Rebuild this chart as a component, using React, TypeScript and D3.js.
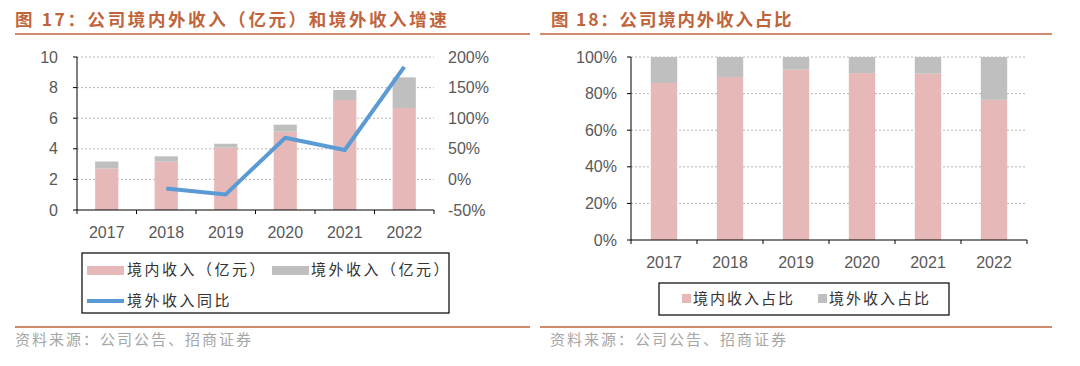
import React from 'react';
import * as d3 from 'd3';

// 数据
const years = ['2017', '2018', '2019', '2020', '2021', '2022'];
const domesticRev = [2.72, 3.16, 4.07, 5.12, 7.19, 6.67];
const overseasRev = [0.45, 0.35, 0.26, 0.46, 0.65, 2.0];
const overseasGrowth = [null, -15, -24.5, 68, 48, 184];
const domesticShare = [85.8, 89.1, 93.1, 91.2, 90.9, 76.6];
const overseasShare = domesticShare.map(v => 100 - v);

const leftTicks = [0, 2, 4, 6, 8, 10];
const rightTicks = [-50, 0, 50, 100, 150, 200];
const shareTicks = [0, 20, 40, 60, 80, 100];

const PINK = '#e6b8b7';
const GRAY = '#bfbfbf';
const BLUE = '#5b9bd5';
const TITLE = '#c0643c';
const RULE = '#d08a6c';
const TXT = '#595959';
const CJK = '"Noto Sans CJK SC", "Noto Sans", sans-serif';
const LAT = 'Arial, "Liberation Sans", sans-serif';

const LeftChart: React.FC = () => {
  const x = d3.scaleBand<string>().domain(years).range([77, 434]).paddingInner(0.61).paddingOuter(0.305);
  const y = d3.scaleLinear().domain([0, 10]).range([210, 57]);
  const y2 = d3.scaleLinear().domain([-50, 200]).range([210, 57]);
  const step = x.step();
  const line = d3.line<number | null>()
    .defined(d => d !== null)
    .x((_, i) => (x(years[i]) || 0) + x.bandwidth() / 2)
    .y(d => y2(d as number));

  return (
    <g>
      {leftTicks.filter(t => t > 0).map(t => (
        <line key={t} x1={77} x2={434} y1={y(t)} y2={y(t)} stroke="#a6a6a6" strokeDasharray="2,2" strokeWidth={0.8} />
      ))}
      {years.map((yr, i) => (
        <g key={yr}>
          <rect x={x(yr)} width={x.bandwidth()} y={y(domesticRev[i])} height={y(0) - y(domesticRev[i])} fill={PINK} />
          <rect x={x(yr)} width={x.bandwidth()} y={y(domesticRev[i] + overseasRev[i])} height={y(domesticRev[i]) - y(domesticRev[i] + overseasRev[i])} fill={GRAY} />
        </g>
      ))}
      <path d={line(overseasGrowth) || ''} fill="none" stroke={BLUE} strokeWidth={4} strokeLinejoin="round" />
      <line x1={77} x2={77} y1={57} y2={210} stroke="#000" strokeWidth={1} />
      <line x1={77} x2={434} y1={210} y2={210} stroke="#000" strokeWidth={1} />
      {leftTicks.map(t => (
        <g key={t}>
          <line x1={73} x2={77} y1={y(t)} y2={y(t)} stroke="#000" />
          <text x={58} y={y(t)} dy="0.35em" textAnchor="end" fontSize={16} fill={TXT} fontFamily={LAT}>{t}</text>
        </g>
      ))}
      {rightTicks.map(t => (
        <text key={t} x={448} y={y2(t)} dy="0.35em" fontSize={16} fill={TXT} fontFamily={LAT}>{t}%</text>
      ))}
      {d3.range(years.length + 1).map(i => (
        <line key={i} x1={77 + i * step} x2={77 + i * step} y1={210} y2={214} stroke="#000" />
      ))}
      {years.map(yr => (
        <text key={yr} x={(x(yr) || 0) + x.bandwidth() / 2} y={232} dy="0.35em" textAnchor="middle" fontSize={16} fill={TXT} fontFamily={LAT}>{yr}</text>
      ))}
      {/* 图例 */}
      <rect x={82} y={253} width={367} height={60} fill="none" stroke="#000" strokeWidth={1.2} />
      <rect x={87} y={266} width={37} height={9} fill={PINK} />
      <text x={127} y={270} dy="0.35em" fontSize={15} letterSpacing={2.5} fill="#333" fontFamily={CJK}>境内收入（亿元）</text>
      <rect x={272} y={266} width={37} height={9} fill={GRAY} />
      <text x={311} y={270} dy="0.35em" fontSize={15} letterSpacing={2.5} fill="#333" fontFamily={CJK}>境外收入（亿元）</text>
      <line x1={87} x2={124} y1={301} y2={301} stroke={BLUE} strokeWidth={4} />
      <text x={127} y={301} dy="0.35em" fontSize={15} letterSpacing={2.5} fill="#333" fontFamily={CJK}>境外收入同比</text>
    </g>
  );
};

const RightChart: React.FC = () => {
  const x = d3.scaleBand<string>().domain(years).range([631, 1027]).paddingInner(0.6).paddingOuter(0.3);
  const y = d3.scaleLinear().domain([0, 100]).range([240, 57]);
  const step = x.step();

  return (
    <g>
      {shareTicks.filter(t => t > 0).map(t => (
        <line key={t} x1={631} x2={1027} y1={y(t)} y2={y(t)} stroke="#a6a6a6" strokeDasharray="2,2" strokeWidth={0.8} />
      ))}
      {years.map((yr, i) => (
        <g key={yr}>
          <rect x={x(yr)} width={x.bandwidth()} y={y(domesticShare[i])} height={y(0) - y(domesticShare[i])} fill={PINK} />
          <rect x={x(yr)} width={x.bandwidth()} y={y(100)} height={y(domesticShare[i]) - y(domesticShare[i] + overseasShare[i])} fill={GRAY} />
        </g>
      ))}
      <line x1={631} x2={631} y1={57} y2={240} stroke="#000" />
      <line x1={631} x2={1027} y1={240} y2={240} stroke="#000" />
      {shareTicks.map(t => (
        <g key={t}>
          <line x1={627} x2={631} y1={y(t)} y2={y(t)} stroke="#000" />
          <text x={617} y={y(t)} dy="0.35em" textAnchor="end" fontSize={16} fill={TXT} fontFamily={LAT}>{t}%</text>
        </g>
      ))}
      {d3.range(years.length + 1).map(i => (
        <line key={i} x1={631 + i * step} x2={631 + i * step} y1={240} y2={244} stroke="#000" />
      ))}
      {years.map(yr => (
        <text key={yr} x={(x(yr) || 0) + x.bandwidth() / 2} y={262} dy="0.35em" textAnchor="middle" fontSize={16} fill={TXT} fontFamily={LAT}>{yr}</text>
      ))}
      {/* 图例 */}
      <rect x={659} y={283} width={290} height={32} fill="none" stroke="#000" strokeWidth={1.2} />
      <rect x={682} y={294} width={9} height={9} fill={PINK} />
      <text x={693} y={299} dy="0.35em" fontSize={15} letterSpacing={2} fill="#333" fontFamily={CJK}>境内收入占比</text>
      <rect x={818} y={294} width={9} height={9} fill={GRAY} />
      <text x={829} y={299} dy="0.35em" fontSize={15} letterSpacing={2} fill="#333" fontFamily={CJK}>境外收入占比</text>
    </g>
  );
};

export default function App() {
  return (
    <svg width={1080} height={366} style={{ position: 'absolute', left: 0, top: 0, background: '#fff' }}>
      <rect width={1080} height={366} fill="#fff" />
      {/* 标题 */}
      <text x={15} y={20} dy="0.35em" fontSize={17.5} letterSpacing={2.6} fontWeight="bold" fill={TITLE} fontFamily={CJK}>图 17：公司境内外收入（亿元）和境外收入增速</text>
      <text x={551} y={20} dy="0.35em" fontSize={17.5} letterSpacing={1.8} fontWeight="bold" fill={TITLE} fontFamily={CJK}>图 18：公司境内外收入占比</text>
      <line x1={15} x2={530} y1={34} y2={34} stroke={RULE} strokeWidth={2} />
      <line x1={540} x2={1052} y1={34} y2={34} stroke={RULE} strokeWidth={2} />
      <LeftChart />
      <RightChart />
      <line x1={15} x2={530} y1={327} y2={327} stroke={RULE} strokeWidth={2} />
      <line x1={540} x2={1052} y1={327} y2={327} stroke={RULE} strokeWidth={2} />
      <text x={15} y={340} dy="0.35em" fontSize={15} letterSpacing={2} fill="#a6a6a6" fontFamily={CJK}>资料来源：公司公告、招商证券</text>
      <text x={550} y={340} dy="0.35em" fontSize={15} letterSpacing={2} fill="#a6a6a6" fontFamily={CJK}>资料来源：公司公告、招商证券</text>
    </svg>
  );
}
